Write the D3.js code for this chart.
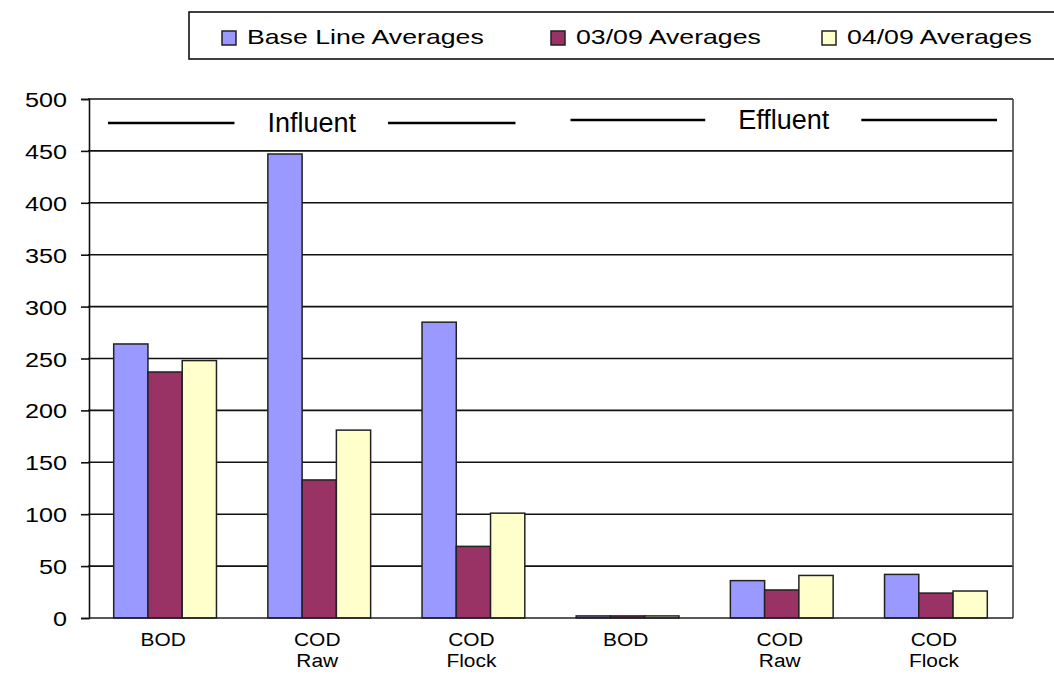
<!DOCTYPE html>
<html>
<head>
<meta charset="utf-8">
<script src="https://cdn.jsdelivr.net/npm/d3@7"></script>
<style>
  body { margin: 0; background: #fff; }
  text { font-family: "Liberation Sans", Arial, sans-serif; fill: #000; }
</style>
</head>
<body>
<div id="chart"></div>
<script>
// chart data
var categories = ["BOD", "COD\nRaw", "COD\nFlock", "BOD", "COD\nRaw", "COD\nFlock"];
var seriesNames = ["Base Line Averages", "03/09 Averages", "04/09 Averages"];
var baseLine = [264, 447, 285, 2, 36, 42];
var march09 = [237, 133, 69, 2, 27, 24];
var april09 = [248, 181, 101, 2, 41, 26];
var yTicks = [0, 50, 100, 150, 200, 250, 300, 350, 400, 450, 500];
var sections = [
    { label: "Influent", from: 0, to: 2 },
    { label: "Effluent", from: 3, to: 5 }
];

var colors = ["#9999ff", "#993366", "#ffffcc"];
var series = [baseLine, march09, april09];

var width = 1054, height = 674;
var plotLeft = 88, plotRight = 1013, plotTop = 99, plotBottom = 618;

var svg = d3.select("#chart").append("svg")
    .attr("width", width)
    .attr("height", height);

var x = d3.scaleBand()
    .domain(d3.range(categories.length))
    .range([plotLeft, plotRight]);

var barW = x.bandwidth() / 4.5;

var xs = d3.scaleBand()
    .domain(d3.range(series.length))
    .range([0, barW * 3]);

var y = d3.scaleLinear()
    .domain([0, 500])
    .range([plotBottom, plotTop]);

// gridlines
svg.append("g")
    .selectAll("line")
    .data(yTicks.slice(1))
    .enter()
    .append("line")
    .attr("x1", plotLeft)
    .attr("x2", plotRight)
    .attr("y1", function (d) { return y(d); })
    .attr("y2", function (d) { return y(d); })
    .attr("stroke", "#111")
    .attr("stroke-width", 1.6);

// right frame
svg.append("line")
    .attr("x1", plotRight).attr("x2", plotRight)
    .attr("y1", plotTop).attr("y2", plotBottom)
    .attr("stroke", "#444").attr("stroke-width", 1.6);

// bars
var groups = svg.append("g")
    .selectAll("g")
    .data(categories)
    .enter()
    .append("g")
    .attr("transform", function (d, i) {
        return "translate(" + (x(i) + (x.bandwidth() - barW * 3) / 2) + ",0)";
    });

groups.selectAll("rect")
    .data(function (d, i) {
        return series.map(function (s, k) { return { k: k, v: s[i] }; });
    })
    .enter()
    .append("rect")
    .attr("x", function (d) { return xs(d.k); })
    .attr("width", xs.bandwidth())
    .attr("y", function (d) { return y(d.v); })
    .attr("height", function (d) { return y(0) - y(d.v); })
    .attr("fill", function (d) { return colors[d.k]; })
    .attr("stroke", "#222")
    .attr("stroke-width", 1.5);

// y axis
var yAxis = svg.append("g")
    .attr("transform", "translate(89,0)")
    .call(d3.axisLeft(y).tickValues(yTicks).tickSize(8).tickPadding(0));

yAxis.select(".domain").attr("stroke", "#111").attr("stroke-width", 1.6);
yAxis.selectAll(".tick line").attr("stroke", "#111").attr("stroke-width", 1.6);
yAxis.selectAll(".tick text")
    .attr("x", -22 / 1.2)
    .attr("dy", "0.36em")
    .attr("transform", "scale(1.2,1)")
    .style("font-size", "21px")
    .style("font-family", "'Liberation Sans', Arial, sans-serif")
    .attr("fill", "#111");

// x axis line
svg.append("line")
    .attr("x1", 89).attr("x2", plotRight)
    .attr("y1", plotBottom).attr("y2", plotBottom)
    .attr("stroke", "#222").attr("stroke-width", 1.6);

// category labels
var xl = svg.append("g")
    .selectAll("g")
    .data(categories)
    .enter()
    .append("g")
    .attr("transform", function (d, i) {
        return "translate(" + (x(i) + x.bandwidth() / 2 - 2) + ",646) scale(1.1,1)";
    });

xl.append("text")
    .attr("text-anchor", "middle")
    .style("font-size", "19px")
    .attr("fill", "#111")
    .selectAll("tspan")
    .data(function (d) { return d.split("\n"); })
    .enter()
    .append("tspan")
    .attr("x", 0)
    .attr("dy", function (d, i) { return i === 0 ? 0 : 21; })
    .text(function (d) { return d; });

// section headers with rules
sections.forEach(function (s, i) {
    var x0 = x(s.from) + 20;
    var x1 = x(s.to) + x.bandwidth() - (i === 0 ? 35 : 16);
    var cx = (x0 + x1) / 2;
    var ty = i === 0 ? 132 : 129;
    var t = svg.append("text")
        .attr("x", cx)
        .attr("y", ty)
        .attr("text-anchor", "middle")
        .style("font-size", "27px")
        .text(s.label);
    var w = t.node().getComputedTextLength();
    var ly = ty - 9;
    [[x0, cx - w / 2 - 33], [cx + w / 2 + 32, x1]].forEach(function (p) {
        svg.append("line")
            .attr("x1", p[0]).attr("x2", p[1])
            .attr("y1", ly).attr("y2", ly)
            .attr("stroke", "#000").attr("stroke-width", 2.5);
    });
});

// legend
svg.append("rect")
    .attr("x", 189).attr("y", 12)
    .attr("width", 900).attr("height", 47)
    .attr("fill", "#fff")
    .attr("stroke", "#111").attr("stroke-width", 1.6);

var legendX = [222, 551, 822];
var lg = svg.append("g")
    .selectAll("g")
    .data(seriesNames)
    .enter()
    .append("g")
    .attr("transform", function (d, i) { return "translate(" + legendX[i] + ",0)"; });

lg.append("rect")
    .attr("x", 0).attr("y", 31)
    .attr("width", 14).attr("height", 14)
    .attr("fill", function (d, i) { return colors[i]; })
    .attr("stroke", "#222").attr("stroke-width", 1.5);

lg.append("text")
    .attr("transform", "translate(25,44) scale(1.27,1)")
    .style("font-size", "21px")
    .attr("fill", "#111")
    .text(function (d) { return d; });
</script>
</body>
</html>
